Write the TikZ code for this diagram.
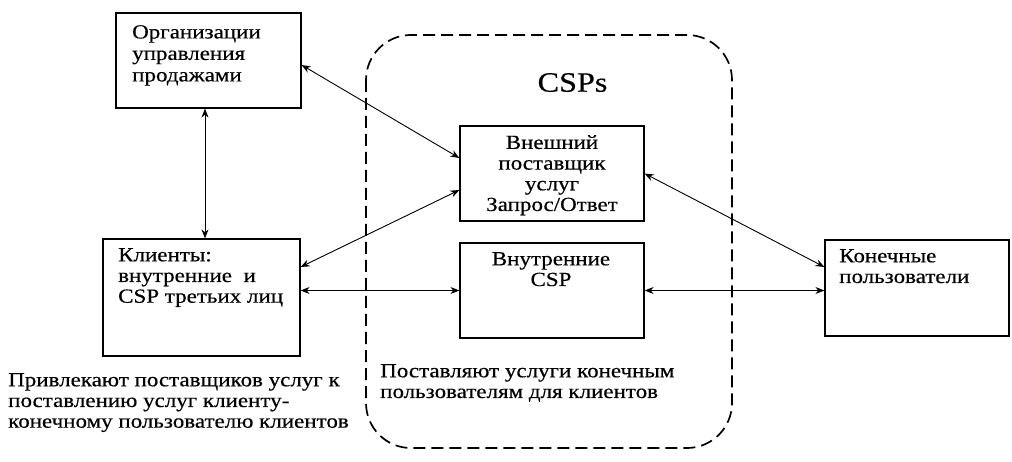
\documentclass[tikz,border=0pt]{standalone}
\usepackage{fontspec}
\setmainfont[FakeStretch=1.15, FakeBold=0.4]{Liberation Serif}
\usetikzlibrary{positioning, arrows.meta, calc}

\begin{document}
\begin{tikzpicture}[x=1pt, y=-1pt,
  box/.style={draw, line width=1.2pt, inner sep=0pt},
  lbl/.style={inner sep=0pt, font=\fontsize{20}{20.7}\selectfont},
  dbl/.style={{Stealth[length=9pt,width=7pt]}-{Stealth[length=9pt,width=7pt]}, line width=0.9pt}]
\useasboundingbox (0,0) rectangle (1012,462);

% CSP area
\draw[dash pattern=on 12pt off 6pt, line width=1.7pt, rounded corners=45pt] (366,35) rectangle (732,448);
\node[inner sep=0pt, font=\fontsize{28}{30}\selectfont, anchor=base] (csps) at (572.5,91.7) {CSPs};

% boxes
\node[box, minimum width=185pt, minimum height=95pt] (org) at (208.5,60.5) {};
\node[box, minimum width=197pt, minimum height=117pt] (clients) at (201.5,297.5) {};
\node[box, minimum width=184pt, minimum height=95pt] (ext) at (552,173.5) {};
\node[box, minimum width=184pt, minimum height=95pt] (int) at (552,290.5) {};
\node[box, minimum width=184pt, minimum height=96pt] (users) at (917,288) {};

% texts
\node[lbl, anchor=north west, align=left, font=\fontsize{20}{21.5}\selectfont] (orgtxt) at (132,25) {Организации\\управления\\продажами};
\node[lbl, anchor=north west, align=left] (clitxt) at (118,248) {Клиенты:\\внутренние\ \ и\\CSP третьих лиц};
\node[lbl, anchor=north, align=center] (exttxt) at (552,135) {Внешний\\поставщик\\услуг\\Запрос/Ответ};
\node[lbl, anchor=north, align=center] (inttxt) at (551,252) {Внутренние\\CSP};
\node[lbl, anchor=north west, align=left] (usrtxt) at (839,249) {Конечные\\пользователи};
\node[lbl, anchor=north west, align=left] (csptxt) at (380,364) {Поставляют услуги конечным\\пользователям для клиентов};
\node[lbl, anchor=north west, align=left] (clinote) at (8,373) {Привлекают поставщиков услуг к\\поставлению услуг клиенту-\\конечному пользователю клиентов};

% connectors
\draw[dbl] ([xshift=-3.5pt]org.south) -- ([xshift=3.5pt]clients.north);
\draw[dbl] ([yshift=-4.5pt]org.east) -- ([yshift=15.5pt]ext.west);
\draw[dbl] ([yshift=30.5pt]clients.east) -- ([yshift=-16.5pt]ext.west);
\draw[dbl] (int.west -| clients.east) -- (int.west);
\draw[dbl] (ext.east) -- ([yshift=21pt]users.west);
\draw[dbl] (int.east) -- (int.east -| users.west);
\end{tikzpicture}
\end{document}
